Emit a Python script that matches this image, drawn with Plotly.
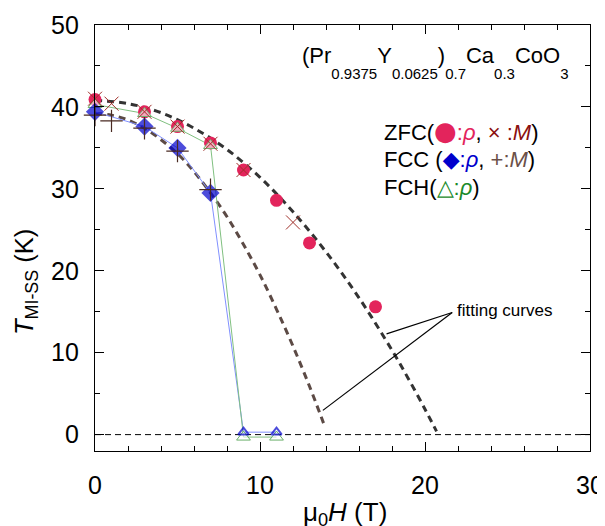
import plotly.graph_objects as go

# ---------------- data ----------------
zfc_rho_H = [0, 3, 5, 7, 9, 11, 13, 17]
zfc_rho_T = [40.9, 39.4, 37.6, 35.6, 32.3, 28.6, 23.4, 15.6]

zfc_M_H = [0, 1, 3, 5, 7, 9, 12]
zfc_M_T = [41.0, 40.4, 39.4, 37.6, 35.5, 32.3, 25.9]

fcc_rho_H = [0, 3, 5, 7, 9, 11]
fcc_rho_T = [39.4, 37.6, 35.0, 29.5, 0.3, 0.3]

fcc_M_H = [0, 1, 3, 5, 7]
fcc_M_T = [39.0, 38.3, 37.4, 34.6, 29.9]

fch_rho_H = [0, 3, 5, 7, 9, 11]
fch_rho_T = [40.3, 39.2, 37.4, 35.3, -0.3, -0.3]

fit_zfc_H = [0, 2, 4, 6, 8, 10, 12, 14, 16, 18, 19, 20, 20.7]
fit_zfc_T = [40.8, 40.4, 39.3, 37.4, 34.8, 31.4, 27.2, 22.3, 16.7, 10.3, 6.8, 3.1, 0.4]

fit_fcc_H = [0, 1, 2, 3, 4, 5, 6, 7, 8, 9, 10, 11, 12, 13, 13.85]
fit_fcc_T = [39.2, 39.0, 38.4, 37.4, 36.0, 34.3, 32.1, 29.5, 26.6, 23.2, 19.5, 15.3, 10.8, 5.9, 1.4]

zero_H = [0, 30]
zero_T = [0, 0]

label_anchor = (21.65, 14.9)
label_targets = [(17.67, 12.3), (13.81, 2.96)]

x_ticks = [0, 10, 20, 30]
y_ticks = [0, 10, 20, 30, 40, 50]

FONT = "Liberation Sans, Arial, sans-serif"
C_ZFC = "#e3245c"
C_ZFCM = "#a0302a"
C_FCC = "#0000cc"
C_FCCM = "#4a2a22"
C_FCH = "#6ab06a"

fig = go.Figure()

fig.add_trace(go.Scatter(x=zero_H, y=zero_T, mode="lines",
                         line=dict(color="black", width=1, dash="6px,4px"),
                         hoverinfo="skip"))
fig.add_trace(go.Scatter(x=fit_zfc_H, y=fit_zfc_T, mode="lines", line_shape="spline",
                         line=dict(color="#333333", width=3, dash="7px,5px")))
fig.add_trace(go.Scatter(x=fit_fcc_H, y=fit_fcc_T, mode="lines", line_shape="spline",
                         line=dict(color="#5c4a45", width=3, dash="7px,5px")))

# connecting lines
fig.add_trace(go.Scatter(x=fcc_rho_H, y=fcc_rho_T, mode="lines",
                         line=dict(color="#8090ff", width=1), cliponaxis=False))
fig.add_trace(go.Scatter(x=fch_rho_H, y=fch_rho_T, mode="lines",
                         line=dict(color="#80c080", width=1), cliponaxis=False))

# ZFC rho circles
fig.add_trace(go.Scatter(x=zfc_rho_H, y=zfc_rho_T, mode="markers", cliponaxis=False,
                         marker=dict(symbol="circle", size=13, color=C_ZFC,
                                     line=dict(width=0))))
# FCH triangles
fig.add_trace(go.Scatter(x=fch_rho_H, y=fch_rho_T, mode="markers", cliponaxis=False,
                         marker=dict(symbol="triangle-up", size=12, color="rgba(255,255,255,0.6)",
                                     line=dict(color=C_FCH, width=1))))
# ZFC M crosses
fig.add_trace(go.Scatter(x=zfc_M_H, y=zfc_M_T, mode="markers", cliponaxis=False,
                         marker=dict(symbol="x-thin-open", size=14, color=C_ZFCM,
                                     line=dict(color=C_ZFCM, width=1))))
# FCC rho diamonds (open triangles at zero)
fig.add_trace(go.Scatter(x=fcc_rho_H, y=fcc_rho_T, mode="markers", cliponaxis=False,
                         marker=dict(symbol=["diamond"] * 4 + ["triangle-up-open"] * 2,
                                     size=[14] * 4 + [9] * 2, color=C_FCC,
                                     line=dict(color=C_FCC, width=[0] * 4 + [2] * 2))))
# FCC M plus
fig.add_trace(go.Scatter(x=fcc_M_H, y=fcc_M_T, mode="markers", cliponaxis=False,
                         marker=dict(symbol="cross-thin-open", size=16, color=C_FCCM,
                                     line=dict(color=C_FCCM, width=1.2))))

# pointer lines for "fitting curves"
for tx, ty in label_targets:
    fig.add_shape(type="line", xref="x", yref="y", x0=label_anchor[0], y0=label_anchor[1],
                  x1=tx, y1=ty, line=dict(color="black", width=1.2))

axis_common = dict(
    showline=True, linecolor="black", linewidth=1.3, mirror="ticks",
    ticks="inside", ticklen=9, tickwidth=1, tickcolor="black",
    showgrid=False, zeroline=False, automargin=False,
    tickfont=dict(family=FONT, size=25, color="black"),
)
fig.update_xaxes(range=[0, 30], tickvals=x_ticks, ticklabelstandoff=12,
                 minor=dict(ticks="inside", ticklen=5, dtick=2, tick0=0, tickcolor="black"),
                 **axis_common)
fig.update_yaxes(range=[-2, 50], tickvals=y_ticks, ticklabelstandoff=10,
                 minor=dict(ticks="inside", ticklen=5, dtick=5, tick0=0, tickcolor="black"),
                 **axis_common)

# page has an 8px body margin: size the figure so the plot lands where the reference has it
OFF = 8
W, H = 605 - OFF, 526 - OFF
L, R, T, B = 95 - OFF, 15, 25 - OFF, 75
pw, ph = W - L - R, H - T - B


def px(xp):
    return (xp - OFF - L) / pw


def py(yp):
    return (H - B - (yp - OFF)) / ph


def sub(t):
    return f"<span style='font-size:15px;baseline-shift:-16px'>{t}</span>"


def glyph(ch, color, size):
    return (f"<span style='color:{color};font-family:DejaVu Sans;font-size:{size}px'>{ch}</span>")


formula = ("(Pr" + sub("0.9375") + "Y" + sub("0.0625") + ")" + sub("0.7")
           + "Ca" + sub("0.3") + "CoO" + sub("3"))

ann = [
    dict(text=formula, x=px(300), y=py(62), xanchor="left", yanchor="middle",
         font=dict(family=FONT, size=22, color="black")),
    dict(text="ZFC(" + glyph("●", C_ZFC, 26)
              + f"<span style='color:{C_ZFC}'>:<i>ρ</i></span>, "
              "<span style='color:#8b1010'>× :<i>M</i></span>)",
         x=px(382), y=py(131), xanchor="left", yanchor="middle",
         font=dict(family=FONT, size=22, color="black")),
    dict(text="FCC (" + glyph("◆", C_FCC, 22)
              + f"<span style='color:{C_FCC}'>:<i>ρ</i></span>, "
              "<span style='color:#6b5048'>+:<i>M</i></span>)",
         x=px(382), y=py(159), xanchor="left", yanchor="middle",
         font=dict(family=FONT, size=22, color="black")),
    dict(text="FCH(<span style='color:#1a8a2a'>△:<i>ρ</i></span>)",
         x=px(382), y=py(187), xanchor="left", yanchor="middle",
         font=dict(family=FONT, size=22, color="black")),
    dict(text="fitting curves", x=px(455), y=py(311), xanchor="left", yanchor="middle",
         font=dict(family=FONT, size=17, color="black")),
    dict(text="<i>T</i><sub>MI-SS</sub> (K)", textangle=-90, x=px(26), y=py(282),
         xanchor="center", yanchor="middle",
         font=dict(family=FONT, size=25.5, color="black")),
    dict(text="μ<sub>0</sub><i>H</i> (T)", x=px(345), y=py(513), yanchor="middle",
         xanchor="center",
         font=dict(family=FONT, size=26, color="black")),
]
for a in ann:
    a.update(xref="paper", yref="paper", showarrow=False)

fig.update_layout(
    width=W, height=H, margin=dict(l=L, r=R, t=T, b=B, autoexpand=False),
    paper_bgcolor="white", plot_bgcolor="white",
    showlegend=False, annotations=ann,
    font=dict(family=FONT, color="black"),
)

fig.write_html("out.html")
